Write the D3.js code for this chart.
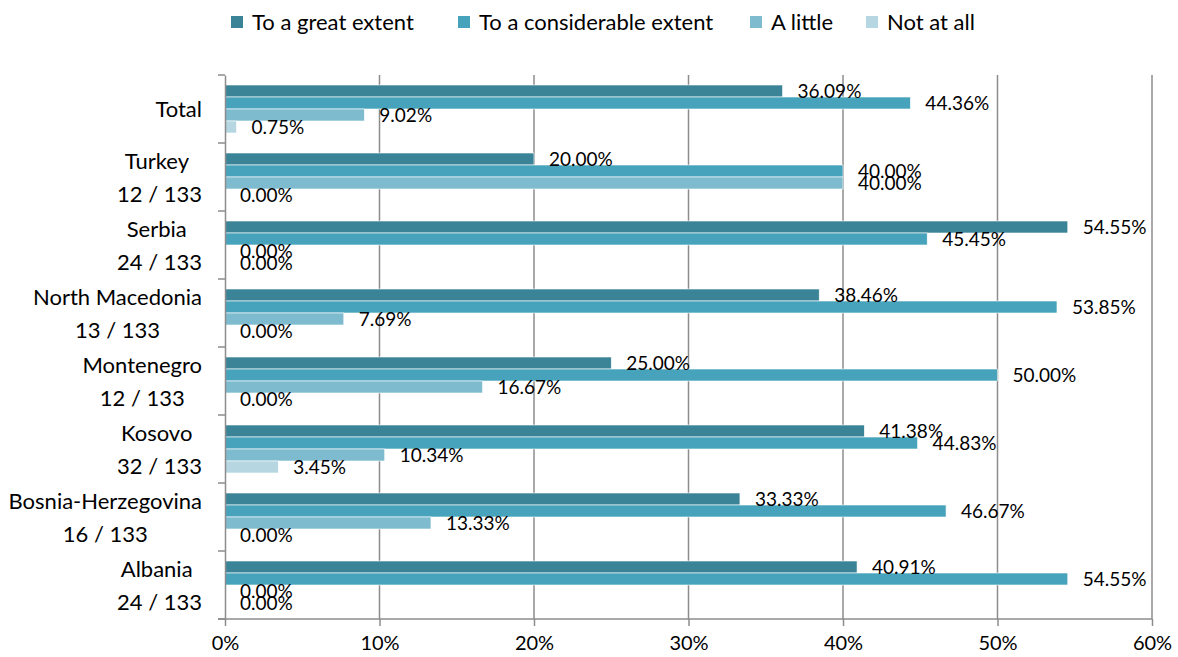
<!DOCTYPE html>
<html>
<head>
<meta charset="utf-8">
<script src="https://cdn.jsdelivr.net/npm/d3@7"></script>
<style>
  html, body { margin: 0; padding: 0; background: #ffffff; }
  svg { display: block; font-family: Lato, "Open Sans", sans-serif; }
  text { white-space: pre; }
</style>
</head>
<body>
<svg id="chart" width="1178" height="657"></svg>
<script>
// ---- data ----
const categories = ["Total", "Turkey ", "Serbia ", "North Macedonia", "Montenegro", "Kosovo ", "Bosnia-Herzegovina", "Albania "];
const subLabels = ["", "12 / 133", "24 / 133", "13 / 133", "12 / 133", "32 / 133", "16 / 133", "24 / 133"];
const seriesNames = ["To a great extent", "To a considerable extent", "A little", "Not at all"];
const greatExtent =        [36.09, 20.00, 54.55, 38.46, 25.00, 41.38, 33.33, 40.91];
const considerableExtent = [44.36, 40.00, 45.45, 53.85, 50.00, 44.83, 46.67, 54.55];
const aLittle =            [9.02, 40.00, 0.00, 7.69, 16.67, 10.34, 13.33, 0.00];
const notAtAll =           [0.75, 0.00, 0.00, 0.00, 0.00, 3.45, 0.00, 0.00];
const xTicks = [0, 10, 20, 30, 40, 50, 60];
const colors = ["#3b8497", "#47a3bb", "#7ebbcf", "#b6d7e1"];

const seriesValues = [greatExtent, considerableExtent, aLittle, notAtAll];

const svg = d3.select("#chart");
const mLeft = 225, mRight = 1152, mTop = 75, mBottom = 619;

const x = d3.scaleLinear().domain([0, 60]).range([mLeft, mRight]);
const y = d3.scaleBand().domain(categories).range([mTop, mBottom]).padding(0);
const yInner = d3.scaleBand().domain(seriesNames).range([10, y.bandwidth() - 10]).padding(0);

// gridlines
svg.append("g").selectAll("line").data(xTicks.slice(1)).join("line")
  .attr("x1", d => x(d)).attr("x2", d => x(d))
  .attr("y1", mTop).attr("y2", mBottom)
  .attr("stroke", "#8c8c8c").attr("stroke-width", 1.5);

// bars
const groups = svg.append("g").selectAll("g").data(categories).join("g")
  .attr("transform", c => `translate(0,${y(c)})`);

groups.each(function(c, ci) {
  const g = d3.select(this);
  seriesNames.forEach((s, si) => {
    const v = seriesValues[si][ci];
    if (v > 0) {
      g.append("rect")
        .attr("x", x(0)).attr("y", yInner(s))
        .attr("width", x(v) - x(0)).attr("height", yInner.bandwidth())
        .attr("fill", colors[si])
        .attr("stroke", "#ffffff").attr("stroke-width", 0.6);
    }
  });
});

// axes
const xAxis = d3.axisBottom(x).tickValues(xTicks).tickFormat(d => d + "%").tickSize(7).tickSizeOuter(0);
const gx = svg.append("g").attr("transform", `translate(0,${mBottom})`).call(xAxis);
gx.select(".domain").attr("stroke", "#8c8c8c").attr("stroke-width", 1.5).attr("d", `M${mLeft - 7},0H${mRight}`);
gx.selectAll(".tick line").attr("stroke", "#8c8c8c").attr("stroke-width", 1.5);
gx.selectAll(".tick text").attr("font-size", 20).attr("font-family", "Lato, 'Open Sans', sans-serif")
  .attr("fill", "#000").attr("dy", "1.05em");

const yAxis = d3.axisLeft(y).tickValues([]).tickSizeOuter(0);
const gy = svg.append("g").attr("transform", `translate(${mLeft},0)`).call(yAxis);
gy.select(".domain").attr("stroke", "#8c8c8c").attr("stroke-width", 1.5);
// category boundary ticks
gy.selectAll("line.bound").data(categories.map(c => y(c)).concat([mBottom])).join("line")
  .attr("class", "bound")
  .attr("x1", -7).attr("x2", 0).attr("y1", d => d).attr("y2", d => d)
  .attr("stroke", "#8c8c8c").attr("stroke-width", 1.5);

// category labels
const labelRight = 202;
categories.forEach((c, ci) => {
  const cy = y(c) + y.bandwidth() / 2;
  const lines = subLabels[ci] ? [c, subLabels[ci]] : [c];
  const g = svg.append("g");
  const texts = lines.map((l, li) => g.append("text").text(l)
    .attr("font-size", 22).attr("fill", "#000")
    .attr("text-anchor", "middle")
    .attr("dy", "0.35em")
    .attr("y", cy + (lines.length === 1 ? 0 : (li === 0 ? -16 : 17))));
  const maxW = d3.max(texts, t => t.node().getComputedTextLength());
  texts.forEach(t => t.attr("x", labelRight - maxW / 2));
});

// value labels
groups.each(function(c, ci) {
  const g = d3.select(this);
  seriesNames.forEach((s, si) => {
    const v = seriesValues[si][ci];
    g.append("text")
      .attr("x", x(v) + 15)
      .attr("y", yInner(s) + yInner.bandwidth() / 2)
      .attr("dy", "0.35em")
      .attr("font-size", 19).attr("fill", "#000")
      .text(v.toFixed(2) + "%");
  });
});

// legend
const legendX = [231, 458, 750, 866];
const lg = svg.append("g");
seriesNames.forEach((s, i) => {
  lg.append("rect").attr("x", legendX[i]).attr("y", 16).attr("width", 12).attr("height", 12).attr("fill", colors[i]);
  lg.append("text").attr("x", legendX[i] + 21).attr("y", 22).attr("dy", "0.35em")
    .attr("font-size", 22).attr("fill", "#000").text(s);
});
</script>
</body>
</html>
